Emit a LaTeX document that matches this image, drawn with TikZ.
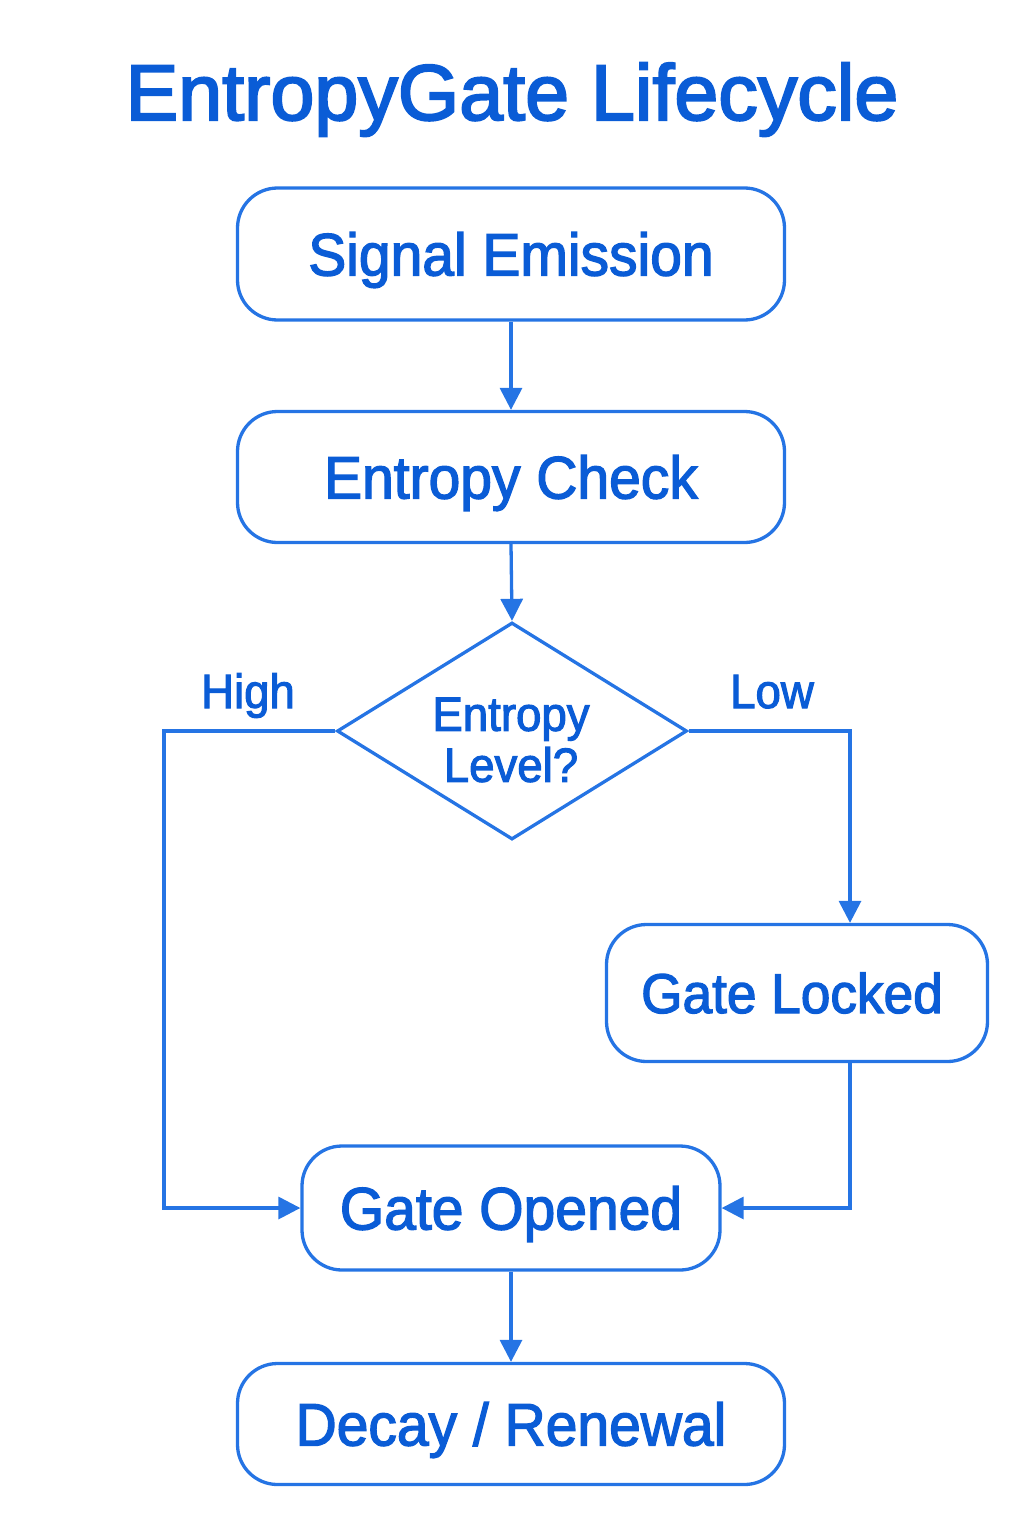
\documentclass[tikz,border=0pt]{standalone}
\usepackage{fontspec}
\setmainfont{Liberation Sans}
\newfontfamily\medf[FakeBold=2.2,FakeStretch=0.95]{Liberation Sans}
\newfontfamily\titlef[FakeBold=2.6]{Liberation Sans}
\usetikzlibrary{arrows.meta,shapes.geometric}
\definecolor{lineblue}{RGB}{37,116,228}
\definecolor{textblue}{RGB}{10,92,214}
\tikzset{
  stepbox/.style={draw=lineblue, line width=3.3pt, rounded corners=40pt, fill=white,
    inner sep=0pt, text=textblue, font=\medf\fontsize{60}{62}\selectfont,
    text height=43pt, text depth=0pt},
  decbox/.style={draw=lineblue, line width=3.3pt, diamond, inner sep=0pt,
    minimum width=350pt, minimum height=217pt},
  smalltxt/.style={text=textblue, font=\medf\fontsize{48}{51}\selectfont, inner sep=0pt},
  conn/.style={draw=lineblue, line width=3.3pt, -{Triangle[length=22pt,width=22pt]}},
}
\begin{document}
\begin{tikzpicture}[x=1pt,y=-1pt]
\path[use as bounding box] (0,0) rectangle (1024,1536);
\node[text=textblue, font=\titlef\fontsize{79}{80}\selectfont, inner sep=0pt, anchor=base] (title) at (512,120) {EntropyGate Lifecycle};

\node[stepbox, minimum width=547pt, minimum height=132pt] (b1) at (511,254) {Signal Emission};
\node[stepbox, minimum width=547pt, minimum height=131pt] (b2) at (511,477) {Entropy Check};
\node[decbox] (dia) at (512,731) {};
\node[smalltxt, align=center] (dtext) at (511,740) {Entropy\\Level?};
\node[smalltxt, anchor=base] (high) at (248,708) {High};
\node[smalltxt, anchor=base] (low) at (772,708) {Low};
\node[stepbox, minimum width=381pt, minimum height=137pt, font=\medf\fontsize{56}{58}\selectfont, text height=40pt] (gl) at (797,993) {\hspace*{-10pt}Gate Locked};
\node[stepbox, minimum width=418pt, minimum height=124pt] (go) at (511,1208) {Gate Opened};
\node[stepbox, minimum width=547pt, minimum height=121pt] (dr) at (511,1424) {Decay / Renewal};

\coordinate (hl) at (164,731);
\coordinate (lr) at (850,731);

\draw[conn] (b1.south) -- (b2.north);
\draw[conn] (b2.south) -- (dia.north);
\draw[conn] (dia.west) -- (hl) |- (go.west);
\draw[conn] (dia.east) -- (lr) -- (lr |- gl.north);
\draw[conn] (lr |- gl.south) |- (go.east);
\draw[conn] (go.south) -- (dr.north);
\end{tikzpicture}
\end{document}
